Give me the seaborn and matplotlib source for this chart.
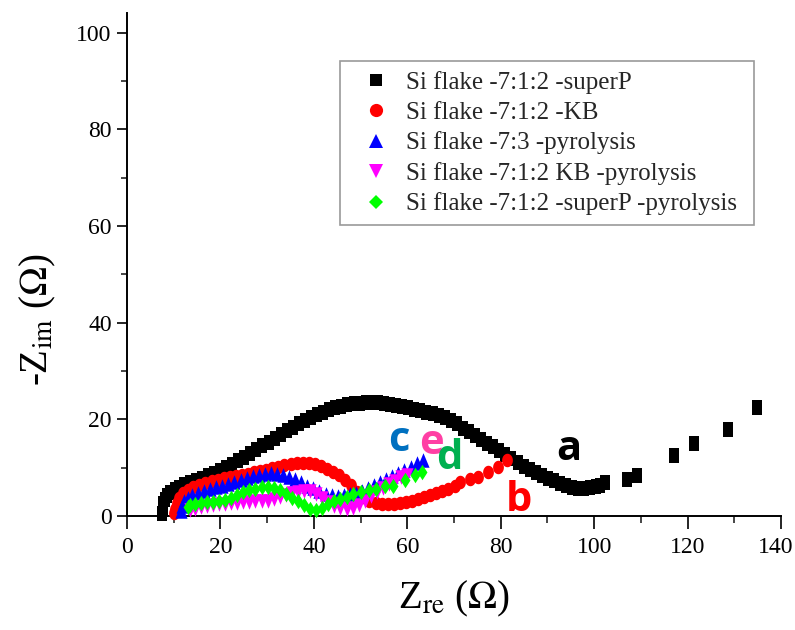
import numpy as np
import pandas as pd
import matplotlib
matplotlib.use("Agg")
import matplotlib.pyplot as plt
from matplotlib.path import Path
from matplotlib.markers import MarkerStyle
from matplotlib.lines import Line2D
from matplotlib.ticker import MultipleLocator
import matplotlib.transforms as mtransforms
import seaborn as sns

# ---------------- data ----------------
labels = ["Si flake -7:1:2 -superP", "Si flake -7:1:2 -KB", "Si flake -7:3 -pyrolysis",
          "Si flake -7:1:2 KB -pyrolysis", "Si flake -7:1:2 -superP -pyrolysis"]

a_x = [7.5, 7.6, 7.8, 8.1, 8.6, 9.3, 10.2, 11.2, 12.3, 13.5, 14.7, 16, 17.3, 18.6, 19.9, 21.2, 22.5,
       23.8, 25.1, 26.4, 27.7, 29, 30.3, 31.6, 32.9, 34.2, 35.5, 36.8, 38.1, 39.4, 40.7, 42, 43.3,
       44.6, 45.9, 47.2, 48.5, 49.8, 51.1, 52.4, 53.7, 55, 56.3, 57.6, 58.9, 60.2, 61.5, 62.8, 64.1,
       65.4, 66.7, 68, 69.3, 70.6, 71.9, 73.2, 74.5, 75.8, 77.1, 78.4, 79.7, 81, 82.3, 83.6, 84.9,
       86.2, 87.5, 88.8, 90.1, 91.4, 92.7, 94, 95.3, 96.6, 97.9, 99.2, 100.3, 101.2, 102.4,
       107, 109.1, 117.2, 121.3, 128.6, 134.8]
a_y = [0.6, 1.5, 2.6, 3.5, 4.3, 5.0, 5.6, 6.1, 6.6, 7.1, 7.5, 7.9, 8.4, 8.9, 9.5, 10.1, 10.8,
       11.5, 12.2, 13.0, 13.8, 14.6, 15.4, 16.2, 17.0, 17.8, 18.5, 19.2, 19.9, 20.5, 21.1, 21.6, 22.1,
       22.5, 22.8, 23.1, 23.3, 23.4, 23.5, 23.5, 23.5, 23.4, 23.2, 23.0, 22.8, 22.5, 22.2, 21.9, 21.6,
       21.3, 20.9, 20.5, 19.9, 19.2, 18.3, 17.5, 16.8, 16.0, 15.2, 14.5, 13.7, 12.8, 12.0, 11.2, 10.4,
       9.7, 9.1, 8.5, 7.9, 7.4, 6.9, 6.5, 6.1, 5.8, 5.7, 5.9, 6.2, 6.5, 7.0,
       7.6, 8.5, 12.6, 15.1, 17.9, 22.6]

b_x = [10.0, 10.2, 10.6, 11.2, 12, 13, 14.2, 15.5, 16.8, 18.1, 19.4, 20.7, 22, 23.3, 24.6, 25.9,
       27.2, 28.5, 29.8, 31.1, 32.4, 33.7, 35, 36.3, 37.6, 38.9, 40.2, 41.5, 42.8, 44.1, 45.4, 46.7,
       48, 49.3, 50.6, 51.9, 53.2, 54.5, 55.8, 57.1, 58.4, 59.7, 61, 62.3, 63.6, 64.9, 66.2, 67.5,
       68.8, 70.2, 71.3, 73.4, 75.2, 77.3, 79.4, 81.3]
b_y = [0.6, 1.5, 2.7, 3.8, 4.7, 5.4, 6.0, 6.5, 6.9, 7.2, 7.5, 7.8, 8.0, 8.3, 8.5, 8.7,
       9.0, 9.3, 9.6, 9.9, 10.2, 10.5, 10.7, 10.9, 11.0, 10.9, 10.7, 10.3, 9.8, 9.2, 8.4, 7.5,
       6.4, 5.0, 3.9, 3.1, 2.7, 2.5, 2.5, 2.5, 2.6, 2.9, 3.2, 3.6, 4.0, 4.4, 4.8, 5.2,
       5.5, 6.2, 7.0, 7.7, 8.1, 9.1, 10.2, 11.5]

c_x = [11.5, 11.8, 12.3, 13, 14, 15.2, 16.5, 17.8, 19.1, 20.4, 21.7, 23, 24.3, 25.6, 26.9, 28.2,
       29.5, 30.8, 32.1, 33.4, 34.7, 36, 37.3, 38.6, 39.9, 41.2, 42.5, 43.8, 45.1, 46.4, 47.7, 49,
       50.3, 51.6, 52.9, 54.2, 55.5, 56.8, 58.1, 59.4, 60.7, 62, 63.3]
c_y = [1.0, 2.0, 3.0, 3.8, 4.3, 4.7, 5.1, 5.5, 5.9, 6.3, 6.7, 7.1, 7.5, 7.9, 8.2, 8.5,
       8.7, 8.8, 8.7, 8.5, 8.1, 7.6, 7.0, 6.3, 5.7, 5.1, 4.6, 4.3, 4.2, 4.3, 4.5, 4.8,
       5.2, 5.8, 6.4, 7.0, 7.7, 8.3, 8.9, 9.5, 10.2, 10.9, 11.6]

e_x = [13.5, 14.5, 15.8, 17.1, 18.4, 19.7, 21, 22.3, 23.6, 24.9, 26.2, 27.5, 28.8, 30.1, 31.4,
       32.7, 34, 35.3, 36.6, 37.9, 39.2, 40.5, 41.8, 43.1, 44.4, 45.7, 47, 48.3, 49.6, 50.9, 52.2,
       53.5, 54.8, 56.1, 57.4, 58.7, 60]
e_y = [1.2, 1.5, 1.8, 2.0, 2.2, 2.4, 2.5, 2.6, 2.7, 2.8, 2.9, 3.0, 3.1, 3.2, 3.5,
       3.9, 4.3, 4.7, 5.0, 5.2, 5.1, 4.6, 3.8, 2.9, 2.1, 1.6, 1.4, 1.7, 2.3, 3.2, 4.1,
       5.0, 5.8, 6.6, 7.3, 8.0, 8.5]

d_x = [13, 13.5, 14.5, 15.8, 17.1, 18.4, 19.7, 21, 22.3, 23.6, 24.9, 26.2, 27.5, 28.8, 30.1, 31.4,
       32.7, 34, 35.3, 36.6, 37.9, 39.2, 40.5, 41.8, 43.1, 44.4, 45.7, 47, 48.4, 50, 51.7, 53.4,
       55.2, 57, 59.6, 61.7, 63.1]
d_y = [1.9, 2.3, 2.5, 2.7, 2.8, 2.9, 3.0, 3.3, 3.8, 4.4, 4.9, 5.3, 5.6, 5.9, 6.0, 5.8,
       5.3, 4.6, 3.8, 3.0, 2.2, 1.5, 1.2, 1.6, 2.4, 3.1, 3.6, 4.0, 4.6, 4.9, 5.4, 5.6,
       6.3, 6.2, 7.5, 8.5, 9.2]

series_colors = ["#000000", "#FF0000", "#0000FF", "#FF00FF", "#00FF00"]

tag_text = ["a", "b", "c", "e", "d"]
tag_x = [94.6, 83.9, 58.2, 65.1, 69.0]
tag_y = [13.7, 3.3, 15.7, 15.1, 11.8]
tag_colors = ["#000000", "#FF0000", "#0070C0", "#FF3FA4", "#00B050"]

x_ticks = [0, 20, 40, 60, 80, 100, 120, 140]
y_ticks = [0, 20, 40, 60, 80, 100]

# ---------------- style ----------------
sns.set_theme(style="ticks")
plt.rcParams["font.family"] = ["Liberation Serif", "DejaVu Serif"]
plt.rcParams["mathtext.fontset"] = "stix"

fig = plt.figure(figsize=(7.95, 6.3), dpi=100)
ax = fig.add_axes([127 / 795, 114 / 630, 654 / 795, (516 - 13.3) / 630])

# vertically stretched marker shapes (the reference is slightly stretched)
sq = Path([(-0.34, -0.5), (0.34, -0.5), (0.34, 0.5), (-0.34, 0.5), (-0.34, -0.5)], closed=True)
th = np.linspace(0, 2 * np.pi, 40)
ci = Path(np.column_stack([0.4 * np.cos(th), 0.5 * np.sin(th)]), closed=True)
tu = Path([(0, 0.5), (-0.42, -0.5), (0.42, -0.5), (0, 0.5)], closed=True)
td = Path([(0, -0.5), (-0.42, 0.5), (0.42, 0.5), (0, -0.5)], closed=True)
di = Path([(0, 0.5), (0.32, 0), (0, -0.5), (-0.32, 0), (0, 0.5)], closed=True)
shapes = [sq, ci, tu, td, di]
sizes = [15.0, 13.5, 14.5, 14.5, 15.5]   # marker heights in px

xs = [a_x, b_x, c_x, e_x, d_x]
ys = [a_y, b_y, c_y, e_y, d_y]
for xv, yv, col, shp, sz in zip(xs, ys, series_colors, shapes, sizes):
    df = pd.DataFrame({"x": xv, "y": yv})
    ms = sz * 0.72
    sns.scatterplot(data=df, x="x", y="y", ax=ax, marker=MarkerStyle(shp), s=ms ** 2,
                    color=col, edgecolor=col, linewidth=0, clip_on=False, legend=False, zorder=3)

for t, tx, ty, tc in zip(tag_text, tag_x, tag_y, tag_colors):
    ax.text(tx, ty, t, color=tc, fontsize=30, fontweight="bold", ha="center", va="center",
            family=["Open Sans", "DejaVu Sans"], zorder=5)

ax.set_xlim(0, 140)
ax.set_ylim(0, 104)
ax.set_xticks(x_ticks)
ax.set_yticks(y_ticks)
ax.xaxis.set_minor_locator(MultipleLocator(10))
ax.yaxis.set_minor_locator(MultipleLocator(10))
for s in ["top", "right"]:
    ax.spines[s].set_visible(False)
for s in ["left", "bottom"]:
    ax.spines[s].set_linewidth(1.4)
    ax.spines[s].set_color("black")
ax.tick_params(axis="x", which="major", direction="out", length=9, width=1.2, pad=6,
               labelsize=17, colors="black")
ax.tick_params(axis="x", which="minor", direction="out", length=5, width=1.2)
ax.tick_params(axis="y", which="major", direction="out", length=7, width=1.2, pad=4,
               labelsize=17, colors="black")
ax.tick_params(axis="y", which="minor", direction="out", length=4, width=1.2)

ax.set_xlabel(r"Z$_{\mathrm{re}}$ ($\Omega$)", fontsize=28, color="black")
ax.set_ylabel(r"-Z$_{\mathrm{im}}$ ($\Omega$)", fontsize=28, color="black")
ax.xaxis.set_label_coords(0.5, -0.125)
ax.yaxis.set_label_coords(-0.105, 0.39)

legend_shapes = ["s", "o", "^", "v", "D"]
legend_sizes = [8.5, 9.5, 9.5, 9.5, 7.5]
handles = [Line2D([], [], linestyle="none", marker=m, markersize=sz, color=c, markeredgewidth=0)
           for m, sz, c in zip(legend_shapes, legend_sizes, series_colors)]
leg = ax.legend(handles, labels, loc="upper left",
                bbox_to_anchor=((340 - 127) / 654, (516 - 61) / 502.7, (754 - 340) / 654, 0.0),
                mode="expand", borderaxespad=0, fontsize=18, frameon=True, fancybox=False,
                handlelength=2.05, handletextpad=0.2, borderpad=0.4, labelspacing=0.3)
leg.get_frame().set_edgecolor("#808080")
leg.get_frame().set_linewidth(1.2)

# keep the last x tick label inside the canvas (reference shows it flush at the edge)
fig.canvas.draw()
last = ax.xaxis.get_major_ticks()[-1].label1
last.set_transform(last.get_transform() + mtransforms.ScaledTranslation(-4 / 72, 0, fig.dpi_scale_trans))

fig.savefig("out.png", dpi=100)
